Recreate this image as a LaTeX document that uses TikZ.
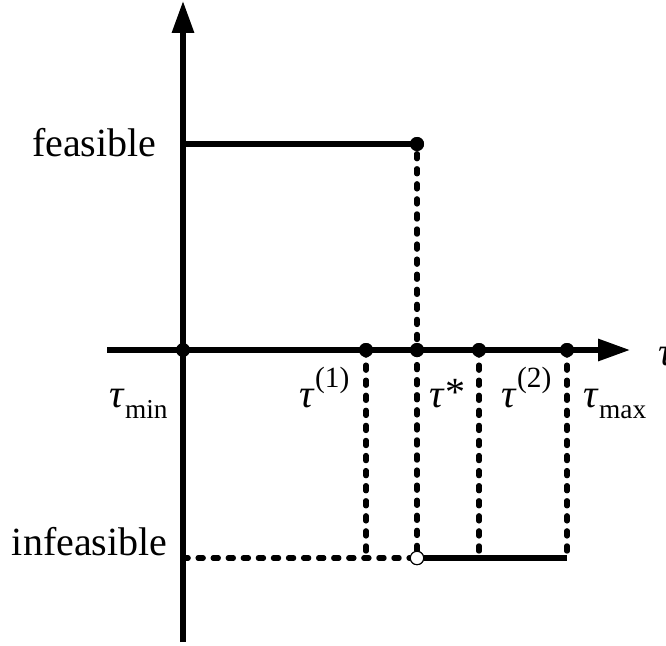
\documentclass[tikz,border=0pt]{standalone}
\usepackage{fontspec}
\setmainfont{Liberation Serif}
\usetikzlibrary{arrows.meta}
\newcommand{\tsubx}[1]{\raisebox{-0.28em}{\fontsize{20.5}{21}\selectfont #1}}
\newcommand{\tsupx}[1]{\raisebox{0.5em}{\fontsize{22}{22}\selectfont #1}}
\newcommand{\tstarx}{\raisebox{0.05em}{\fontsize{30}{30}\selectfont *}}
\newcommand{\tauit}{\textit{τ}}
\begin{document}
\begin{tikzpicture}[x=0.75pt,y=-0.75pt,line width=3.9pt,
  dot/.style={circle,fill=black,inner sep=0pt,minimum size=10.5pt},
  opendot/.style={circle,fill=white,draw=black,line width=0.8pt,inner sep=0pt,minimum size=10pt},
  dsh/.style={dash pattern=on 3.9pt off 7.4pt,line cap=round},
  lbl/.style={inner sep=0pt,font=\fontsize{30}{36}\selectfont},
  axarrow/.style={-{Triangle[length=24pt,width=16pt]}}]
\useasboundingbox (0,0) rectangle (666,645);
% key points
\coordinate (ybot) at (183,642);
\coordinate (ytop) at (183,1);
\coordinate (xl) at (107,350);
\coordinate (xr) at (630,350);
\coordinate (F) at (183,144);
\coordinate (I) at (183,558);
\coordinate (I1) at (366,558);
\coordinate (I2) at (479,558);
\coordinate (Imax) at (567,558);
% axes
\draw[axarrow] (ybot) -- (ytop);
\draw[axarrow] (xl) -- (xr);
% dots
\node[dot] (O) at (183,350) {};
\node[dot] (t1) at (366,350) {};
\node[dot] (ts) at (417,350) {};
\node[dot] (t2) at (479,350) {};
\node[dot] (tmax) at (567,350) {};
\node[dot] (Fend) at (417,144) {};
\node[opendot] (Iopen) at (417,558) {};
% feasible level
\draw (F) -- (Fend.center);
% dashed drops
\draw[dsh] (Fend.south) -- (Iopen.north);
\draw[dsh] (t1.center) -- (I1);
\draw[dsh] (t2.center) -- (I2);
\draw[dsh] (tmax.center) -- (Imax);
\draw[dsh] (I) -- (Iopen.west);
\draw (Iopen.east) -- (Imax);
\node[opendot] at (Iopen) {};
\node[dot] at (Fend) {};
\node[dot] at (t1) {};
\node[dot] at (ts) {};
\node[dot] at (t2) {};
\node[dot] at (tmax) {};
% labels
\node[lbl,anchor=base east] (lf) at (159,157) {feasible};
\node[lbl,anchor=base east] (li) at (170,555) {infeasible};
\node[lbl,anchor=base west] (lmin) at (107,407) {\tauit\tsubx{min}};
\node[lbl,anchor=base west] (l1) at (297,407) {\tauit\tsupx{(1)}};
\node[lbl,anchor=base west] (ls) at (427,407) {\tauit\tstarx};
\node[lbl,anchor=base west] (l2) at (499,407) {\tauit\tsupx{(2)}};
\node[lbl,anchor=base west] (lmax) at (581,407) {\tauit\tsubx{max}};
\node[lbl,anchor=base west] (lt) at (656,365) {\tauit};
\end{tikzpicture}
\end{document}
